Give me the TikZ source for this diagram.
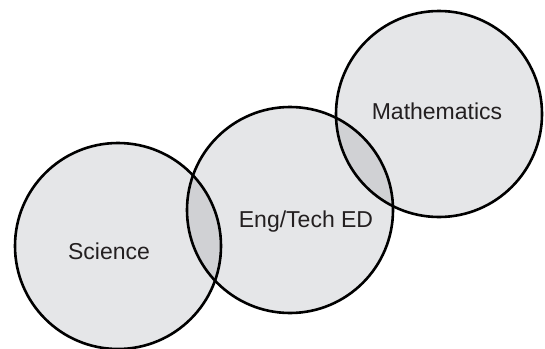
\documentclass[tikz,border=0pt]{standalone}
\usepackage{fontspec}
\setmainfont{Liberation Sans}
\definecolor{circfill}{HTML}{E5E6E8}
\definecolor{overlapfill}{HTML}{D0D1D4}
\definecolor{txt}{HTML}{231F20}
\begin{document}
\begin{tikzpicture}[x=1pt,y=-1pt,
  ring/.style={draw=black,line width=2.6pt},
  lbl/.style={text=txt,font=\fontsize{23}{26}\selectfont,inner sep=0pt}]
\useasboundingbox (0,0) rectangle (545,348);
\coordinate (sc) at (118,246);
\coordinate (ec) at (290,210);
\coordinate (mc) at (439,114);
\def\R{103}
\fill[circfill] (sc) circle (\R);
\fill[circfill] (ec) circle (\R);
\fill[circfill] (mc) circle (\R);
\begin{scope}
  \clip (sc) circle (\R);
  \fill[overlapfill] (ec) circle (\R);
\end{scope}
\begin{scope}
  \clip (mc) circle (\R);
  \fill[overlapfill] (ec) circle (\R);
\end{scope}
\draw[ring] (sc) circle (\R);
\draw[ring] (ec) circle (\R);
\draw[ring] (mc) circle (\R);
\node[lbl] (science) at (109,251) {Science};
\node[lbl] (eng) at (306,222) {Eng/Tech ED};
\node[lbl] (math) at (437,111) {Mathematics};
\end{tikzpicture}
\end{document}
